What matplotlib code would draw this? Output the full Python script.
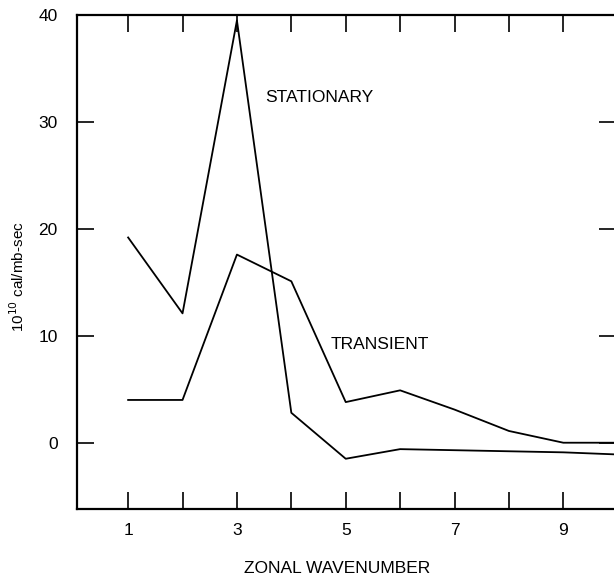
import numpy as np
import matplotlib
matplotlib.use("Agg")
import matplotlib.pyplot as plt

plt.rcParams['font.family'] = ['Liberation Sans', 'DejaVu Sans']

# zonal wavenumber and heat transport (10^10 cal/mb-sec)
wavenumber = [1, 2, 3, 4, 5, 6, 7, 8, 9, 10]
stationary = [19.2, 12.1, 39.5, 2.8, -1.5, -0.6, -0.7, -0.8, -0.9, -1.1]
transient = [4.0, 4.0, 17.6, 15.1, 3.8, 4.9, 3.1, 1.1, 0.0, 0.0]

xtick_labels = ['1', '3', '5', '7', '9']
yticks = [0, 10, 20, 30, 40]

fig = plt.figure(figsize=(6.14, 5.79), dpi=100)
# right spine sits just off the canvas, as in the scanned original
ax = fig.add_axes([0.1254, 0.1209, 0.878, 0.853])

ax.plot(wavenumber, stationary, color='black', lw=1.3)
ax.plot(wavenumber, transient, color='black', lw=1.3)

ax.text(3.52, 32.3, 'STATIONARY', fontsize=12.5, va='center', ha='left')
ax.text(4.73, 9.2, 'TRANSIENT', fontsize=12.5, va='center', ha='left')

ax.set_xlim(0.06, 9.97)
ax.set_ylim(-6.2, 40)

ax.set_xticks(range(1, 10))
ax.set_xticklabels([str(i) if i % 2 == 1 else '' for i in range(1, 10)])
ax.set_yticks(yticks)

ax.tick_params(axis='both', direction='in', length=12, width=1.2,
               labelsize=12.5, top=True, right=True, pad=14)
ax.tick_params(axis='x', pad=10)

for sp in ax.spines.values():
    sp.set_linewidth(1.6)

ax.set_xlabel('ZONAL WAVENUMBER', fontsize=12.5)
ax.xaxis.set_label_coords(0.482, -0.105)
ax.set_ylabel('10$^{10}$ cal/mb-sec', fontsize=11)
ax.yaxis.set_label_coords(-0.092, 0.47)

fig.savefig('out.png', dpi=100)
